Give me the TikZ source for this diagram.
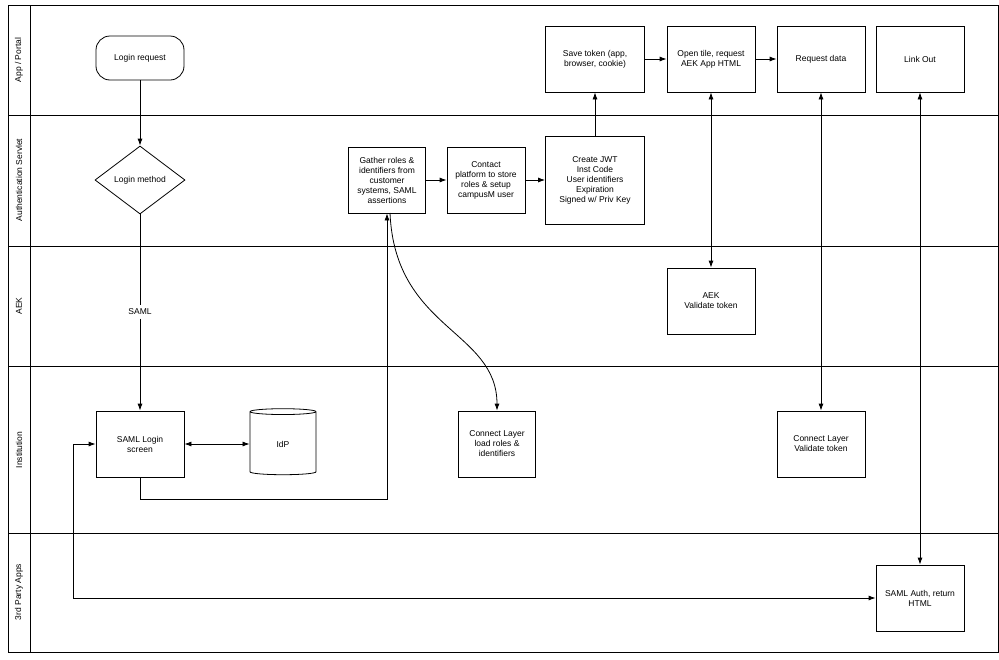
\documentclass[tikz,border=0pt]{standalone}
\usepackage{fontspec}
\setmainfont{Liberation Sans}
\usetikzlibrary{shapes.geometric,arrows.meta}
\begin{document}
\begin{tikzpicture}[x=1pt,y=-1pt,
  box/.style={draw,thick,minimum width=88pt,minimum height=66pt,align=center,font=\fontsize{8.5}{10}\selectfont,inner sep=1pt},
  lane/.style={rotate=90,font=\fontsize{8.5}{10}\selectfont},
  arr/.style={thick,-{Latex[length=7pt,width=5pt]}},
  darr/.style={thick,{Latex[length=7pt,width=5pt]}-{Latex[length=7pt,width=5pt]}}]
\useasboundingbox (0,0) rectangle (999,659);
\fill[white] (0,0) rectangle (999,659);
\draw[thick] (8,5) rectangle (998,652);
\draw[thick] (30,5) -- (30,652);
\foreach \y in {115,246,366,533} \draw[thick] (8,\y) -- (998,\y);
\node[lane] (l1) at (19,60) {App / Portal};
\node[lane] (l2) at (19,180) {Authentication Servlet};
\node[lane] (l3) at (19,306) {AEK};
\node[lane] (l4) at (19,450) {Institution};
\node[lane] (l5) at (19,592) {3rd Party Apps};
\node[box,rounded corners=14pt,minimum height=44pt] (lr) at (140,58) {Login request};
\node[draw,thick,diamond,aspect=1.35,minimum width=90pt,minimum height=68pt,inner sep=0pt,font=\fontsize{8.5}{10}\selectfont] (lm) at (140,180) {Login method};
\node[box] (sl) at (140,444) {SAML Login\\screen};
\node[draw,thick,cylinder,shape border rotate=90,aspect=0.3,minimum width=66pt,minimum height=66pt,font=\fontsize{8.5}{10}\selectfont] (idp) at (283,444) {IdP};
\node[box,minimum width=77pt] (ga) at (387,180) {Gather roles \&\\identifiers from\\customer\\systems, SAML\\assertions};
\node[box,minimum width=78pt] (co) at (486,180) {Contact\\platform to store\\roles \& setup\\campusM user};
\node[box,minimum width=99pt,minimum height=88pt] (jwt) at (595,180) {Create JWT\\Inst Code\\User identifiers\\Expiration\\Signed w/ Priv Key};
\node[box,minimum width=99pt] (sv) at (595,59) {Save token (app,\\browser, cookie)};
\node[box] (ot) at (711,59) {Open tile, request\\AEK App HTML};
\node[box] (rd) at (821,59) {Request data};
\node[box] (lo) at (920,59) {Link Out};
\node[box] (aek) at (711,301) {AEK\\Validate token};
\node[box,minimum width=77pt] (cl) at (497,444) {Connect Layer\\load roles \&\\identifiers};
\node[box] (cv) at (821,444) {Connect Layer\\Validate token};
\node[box] (sa) at (920,598) {SAML Auth, return\\HTML};
\node[font=\fontsize{8.5}{10}\selectfont,fill=white] (saml) at (140,312) {SAML};
\draw[arr] (lr) -- (lm);
\draw[thick] (lm) -- (saml);
\draw[arr] (saml) -- (sl);
\draw[darr] (sl) -- (idp);
\draw[arr] (sl.south) -- (140,499) -- (387,499) -- (ga.south);
\draw[arr] (390,213) .. controls (395,330) and (497,330) .. (cl.north);
\draw[arr] (ga) -- (co);
\draw[arr] (co) -- (jwt);
\draw[arr] (jwt) -- (sv);
\draw[arr] (sv) -- (ot);
\draw[arr] (ot) -- (rd);
\draw[darr] (ot) -- (aek);
\draw[darr] (rd) -- (cv);
\draw[darr] (lo) -- (sa);
\draw[darr] (sa.west) -- (73,598) -- (73,444) -- (sl.west);
\end{tikzpicture}
\end{document}
